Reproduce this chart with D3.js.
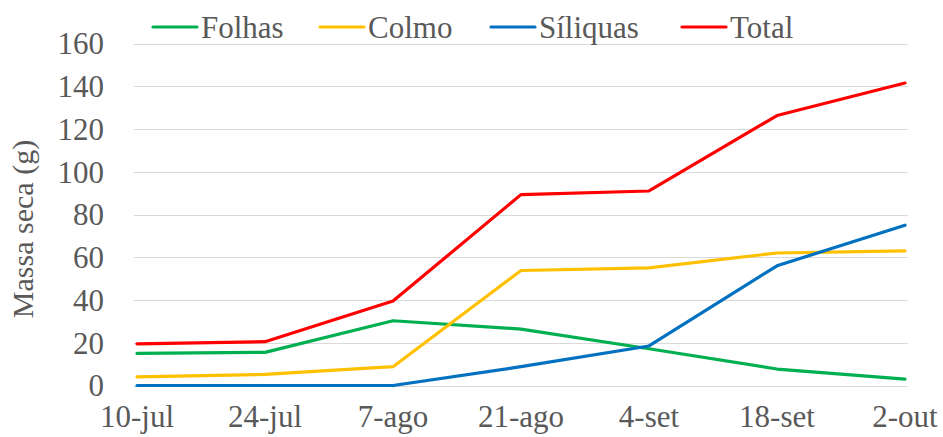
<!DOCTYPE html>
<html>
<head>
  <meta charset="UTF-8">
  <title>Massa seca</title>
  <script src="https://d3js.org/d3.v7.min.js"></script>
  <style>
    body { margin: 0; background: #fff; }
  </style>
</head>
<body>
  <svg id="chart" width="943" height="437"></svg>
  <script>
    // data
    const dates = ["10-jul", "24-jul", "7-ago", "21-ago", "4-set", "18-set", "2-out"];
    const folhas = [15, 15.5, 30.3, 26.4, 17.2, 7.7, 3];
    const colmo = [4, 5.2, 8.8, 53.8, 55, 62, 63];
    const siliquas = [0, 0, 0, 8.8, 18.5, 56, 75];
    const total = [19.5, 20.5, 39.5, 89.3, 91, 126.3, 141.5];
    const yTicks = [0, 20, 40, 60, 80, 100, 120, 140, 160];

    const series = [
      { name: "Folhas", color: "#00B050", values: folhas },
      { name: "Colmo", color: "#FFC000", values: colmo },
      { name: "Síliquas", color: "#0070C0", values: siliquas },
      { name: "Total", color: "#FF0000", values: total }
    ];

    const svg = d3.select("#chart");
    const font = "Liberation Serif";
    const txtColor = "#595959";
    const fs = 31;

    const x = d3.scalePoint().domain(dates).range([137, 905]);
    const y = d3.scaleLinear().domain([0, 160]).range([385.5, 43.5]);

    // gridlines
    svg.append("g")
      .selectAll("line")
      .data(yTicks)
      .join("line")
      .attr("x1", 134).attr("x2", 908)
      .attr("y1", d => Math.round(y(d)) + 0.5)
      .attr("y2", d => Math.round(y(d)) + 0.5)
      .attr("stroke", "#d9d9d9")
      .attr("stroke-width", 1);

    // y tick labels
    svg.append("g")
      .selectAll("text")
      .data(yTicks)
      .join("text")
      .attr("x", 104)
      .attr("y", d => y(d))
      .attr("dy", "0.35em")
      .attr("text-anchor", "end")
      .attr("font-size", fs)
      .attr("fill", txtColor)
      .style("font-family", font)
      .text(d => d);

    // x tick labels
    svg.append("g")
      .selectAll("text")
      .data(dates)
      .join("text")
      .attr("x", d => x(d))
      .attr("y", 427)
      .attr("text-anchor", "middle")
      .attr("font-size", fs)
      .attr("fill", txtColor)
      .style("font-family", font)
      .text(d => d);

    // axis title
    svg.append("text")
      .attr("transform", "translate(33,229) rotate(-90)")
      .attr("text-anchor", "middle")
      .attr("font-size", 30)
      .attr("fill", txtColor)
      .style("font-family", font)
      .text("Massa seca (g)");

    const line = d3.line()
      .x((d, i) => x(dates[i]))
      .y(d => y(d));

    svg.append("g")
      .selectAll("path")
      .data(series)
      .join("path")
      .attr("d", d => line(d.values))
      .attr("fill", "none")
      .attr("stroke", d => d.color)
      .attr("stroke-width", 3.2)
      .attr("stroke-linejoin", "round")
      .attr("stroke-linecap", "round");

    // legend
    const legendX = [153, 320, 491, 682];
    const leg = svg.append("g")
      .selectAll("g")
      .data(series)
      .join("g")
      .attr("transform", (d, i) => `translate(${legendX[i]},27)`);
    leg.append("line")
      .attr("x1", 0).attr("x2", 44)
      .attr("stroke", d => d.color)
      .attr("stroke-width", 3.2)
      .attr("stroke-linecap", "round");
    leg.append("text")
      .attr("x", 48)
      .attr("dy", "0.35em")
      .attr("font-size", fs)
      .attr("fill", txtColor)
      .style("font-family", font)
      .text(d => d.name);
  </script>
</body>
</html>
